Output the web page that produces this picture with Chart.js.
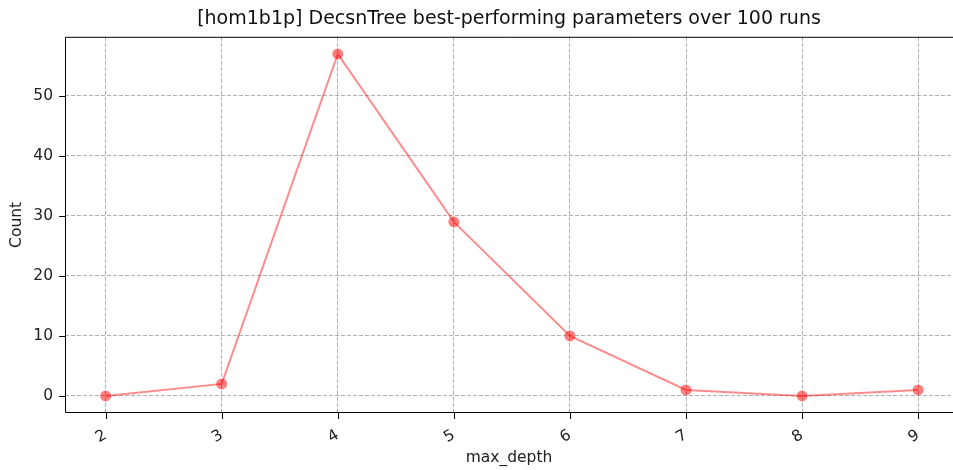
<!DOCTYPE html>
<html>
<head>
<meta charset="utf-8">
<script src="https://cdn.jsdelivr.net/npm/chart.js@4"></script>
<style>
  html, body { margin: 0; padding: 0; background: #fff; }
  #wrap { width: 953px; height: 470px; }
</style>
</head>
<body>
<div id="wrap"><canvas id="lineChart" width="953" height="470"></canvas></div>
<script>
const depths = [2, 3, 4, 5, 6, 7, 8, 9];
const counts = [0, 2, 57, 29, 10, 1, 0, 1];
const yTicks = [0, 10, 20, 30, 40, 50];
const titleText = "[hom1b1p] DecsnTree best-performing parameters over 100 runs";

// left/top/bottom spines + outward tick marks (right spine is cropped off in the reference)
const framePlugin = {
  id: "frame",
  afterDraw(chart) {
    const { ctx, chartArea: a, scales } = chart;
    ctx.save();
    ctx.strokeStyle = "#000";
    ctx.lineWidth = 1;
    ctx.beginPath();
    ctx.moveTo(chart.width, a.top + 0.5);
    ctx.lineTo(a.left + 0.5, a.top + 0.5);
    ctx.lineTo(a.left + 0.5, a.bottom - 0.5);
    ctx.lineTo(chart.width, a.bottom - 0.5);
    depths.forEach(d => {
      const x = Math.round(scales.x.getPixelForValue(d)) + 0.5;
      ctx.moveTo(x, a.bottom);
      ctx.lineTo(x, a.bottom + 6);
    });
    yTicks.forEach(v => {
      const y = Math.round(scales.y.getPixelForValue(v)) + 0.5;
      ctx.moveTo(a.left, y);
      ctx.lineTo(a.left - 6, y);
    });
    ctx.stroke();
    ctx.restore();
  }
};

const ctx = document.getElementById("lineChart").getContext("2d");
new Chart(ctx, {
  type: "line",
  data: {
    datasets: [
      {
        data: depths.map((d, i) => ({ x: d, y: counts[i] })),
        borderColor: "rgba(255, 0, 0, 0.45)",
        backgroundColor: "rgba(255, 0, 0, 0.5)",
        pointBackgroundColor: "rgba(255, 0, 0, 0.5)",
        pointBorderWidth: 0,
        pointRadius: 5.5,
        borderWidth: 2,
        tension: 0,
      },
    ],
  },
  options: {
    responsive: false,
    animation: false,
    layout: { autoPadding: false, padding: { left: 0, right: 0, top: 0, bottom: 0 } },
    plugins: {
      legend: { display: false },
      tooltip: { enabled: false },
      title: {
        display: true,
        fullSize: false,
        text: titleText,
        color: "#111",
        font: { family: "DejaVu Sans", size: 19, weight: "normal" },
        padding: { top: 8, bottom: 6 },
      },
    },
    scales: {
      x: {
        type: "linear",
        min: 1.65,
        max: 9.3,
        afterBuildTicks(scale) {
          scale.ticks = depths.map(v => ({ value: v }));
        },
        afterFit(scale) {
          scale.height = 57;
          scale.paddingLeft = 0;
          scale.paddingRight = 0;
        },
        ticks: {
          minRotation: 30,
          maxRotation: 30,
          padding: 13,
          color: "#222",
          font: { family: "DejaVu Sans", size: 15.5 },
        },
        grid: { color: "#b0b0b0", drawTicks: false },
        border: { display: false, dash: [4, 2] },
        title: {
          display: true,
          text: "max_depth",
          color: "#222",
          font: { family: "DejaVu Sans", size: 15.5 },
          padding: { top: 2, bottom: 3 },
        },
      },
      y: {
        min: -2.85,
        max: 59.85,
        afterBuildTicks(scale) {
          scale.ticks = yTicks.map(v => ({ value: v }));
        },
        afterFit(scale) { scale.width = 65; },
        ticks: {
          padding: 12,
          color: "#222",
          font: { family: "DejaVu Sans", size: 15.5 },
        },
        grid: { color: "#b0b0b0", drawTicks: false },
        border: { display: false, dash: [4, 2] },
        title: {
          display: true,
          text: "Count",
          color: "#222",
          font: { family: "DejaVu Sans", size: 15.5 },
          padding: { top: 8, bottom: 8 },
        },
      },
    },
  },
  plugins: [framePlugin],
});
</script>
</body>
</html>
